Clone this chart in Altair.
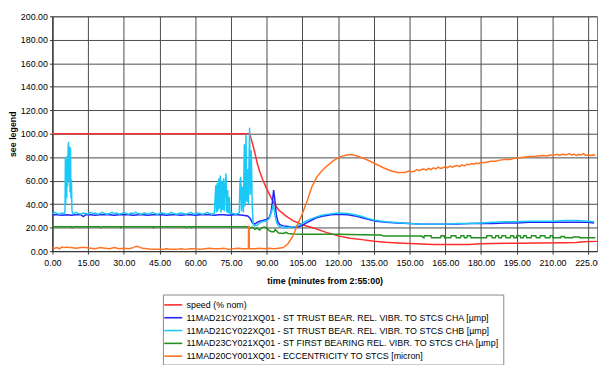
import altair as alt
import pandas as pd

# ---- series names (legend order) ----
names = [
    "speed (% nom)",
    "11MAD21CY021XQ01 - ST TRUST BEAR. REL. VIBR. TO STCS CHA [µmp]",
    "11MAD21CY022XQ01 - ST TRUST BEAR. REL. VIBR. TO STCS CHB [µmp]",
    "11MAD23CY021XQ01 - ST FIRST BEARING REL. VIBR. TO STCS CHA [µmp]",
    "11MAD20CY001XQ01 - ECCENTRICITY TO STCS [micron]",
]
colors = ["#ff2d2d", "#2323ff", "#1cc8f5", "#23901f", "#ff7322"]

# ---- speed ----
speed_t = [0, 82.8, 83.7, 85, 86, 87, 88.5, 90, 92.7, 95, 98, 101, 105, 110, 115, 120, 125, 130,
           135, 140, 145, 150, 155, 160, 170, 175, 180, 185, 195, 205, 215, 220, 223, 228.7]
speed_v = [100, 100, 94, 84, 75, 68, 60, 53, 42, 35, 30, 26, 22.5, 19.5, 16, 13, 11, 9.8,
           8.5, 7.6, 7, 6.5, 6, 5.7, 5.6, 5.7, 6.2, 6.5, 6.8, 7, 7.2, 7.3, 8, 8.3]

# ---- CHA thrust bearing (blue) ----
cha_t = [0, 2, 4, 6, 8, 10, 12, 13, 14, 16, 18, 20, 22, 24, 26, 28, 30, 32, 34, 36, 38, 40, 42, 44,
         46, 48, 50, 52, 54, 56, 58, 60, 62, 64, 66, 68, 70, 72, 74, 76, 78, 80, 82, 83, 84, 85, 86,
         87, 88, 89, 90, 91, 91.8, 92.4, 92.9, 93.4, 94, 94.7, 95.5, 97, 99, 101, 103, 105, 107, 109,
         111, 114, 117, 120, 124, 127, 130, 133, 136, 140, 145, 150, 155, 160, 165, 170, 175, 180,
         185, 190, 195, 200, 205, 210, 215, 220, 225, 227.5]
cha_v = [31, 31, 30.5, 31, 30.5, 31, 31, 29.5, 31, 31, 30.5, 31, 31, 31, 30.5, 31, 31, 31, 30.5, 31,
         31, 30.5, 31, 31, 31, 30.5, 31, 31, 30.5, 31, 31, 30.5, 31, 31, 31, 30.5, 31, 31, 30.5, 31,
         31, 30.5, 30, 28, 24, 23, 24.5, 25.5, 26, 26.5, 27, 28.5, 33, 42, 52, 44, 31, 25, 22.5, 21.5,
         21, 20.5, 20.5, 22, 24.5, 26.5, 28.5, 30, 31, 31.5, 31, 30, 28.5, 27, 25.5, 24.5, 24, 23.5,
         23, 23, 23, 23, 23.5, 23.5, 23.5, 24, 24, 24.5, 24.5, 24.5, 24.5, 24.5, 24.5, 24]

# ---- CHB thrust bearing (cyan) ----
chb_t = [0, 1, 2, 3, 4, 5, 5.3, 5.45, 5.6, 5.8, 6.0, 6.2, 6.4, 6.6, 6.8, 7.0, 7.2, 7.4, 7.6, 7.8,
         8.0, 8.2, 8.5, 9, 10, 11, 12, 13, 14, 15, 16, 17, 18, 19, 20, 21, 22, 23, 24, 25, 26, 27,
         28, 29, 30, 31, 32, 33, 34, 35, 36, 37, 38, 39, 40, 41, 42, 43, 44, 45, 46, 47, 48, 49, 50,
         51, 52, 53, 54, 55, 56, 57, 58, 59, 60, 61, 62, 63, 64, 65, 66, 67, 68,
         68.6, 68.9, 69.2, 69.5, 69.9, 70.2, 70.5, 70.8, 71.2, 71.5, 71.9, 72.2, 72.6, 72.9, 73.2,
         73.6, 73.9, 74.3, 74.6, 75, 76, 77, 78, 78.5, 78.8, 79.1, 79.4, 79.8, 80.2, 80.6, 80.9,
         81.3, 81.6, 82.0, 82.3, 82.8, 83.1, 83.5, 83.9, 84.3, 85, 86, 87, 88, 89, 90, 91, 92, 92.8,
         93.5, 94.2, 95, 96, 98, 100, 102, 104, 106, 108, 110, 113, 116, 120, 124, 127, 130, 133,
         136, 140, 143, 147, 150, 155, 160, 165, 170, 175, 180, 185, 190, 195, 200, 205, 210, 215,
         220, 225, 227.5]
chb_v = [32, 33, 32, 31.5, 32.5, 32, 34, 80, 40, 78, 45, 81, 55, 88, 93, 60, 89, 50, 88, 45,
         61, 35, 32, 32, 33, 32, 31.5, 32.5, 32, 31.5, 33, 32, 32.5, 31.5, 32, 33, 32, 31.5, 32, 33,
         32, 32.5, 31.5, 32, 33, 32, 31.5, 32.5, 32, 33, 32, 31.5, 32, 32.5, 31.5, 32, 33, 32, 31.5,
         32, 32.5, 32, 31.5, 32, 33, 32, 31.5, 32, 32.5, 32, 31.5, 32, 33, 32, 31.5, 32.5, 32, 31.5,
         32, 33, 32, 31.5, 32,
         56, 33, 58, 34, 62, 36, 64.5, 33, 60, 35, 62, 34, 57, 66, 33,
         52, 32, 46, 32, 32.5, 32, 31.5, 32, 33, 60, 63, 34, 55, 33, 91, 38,
         99.5, 42, 70, 40, 105, 48, 86, 40, 23, 21.5, 22, 24, 25, 25.5, 26, 27.5, 33, 40,
         30, 24, 21.5, 20.5, 20, 20.5, 21, 22.5, 25, 27, 28.5, 30.5, 31.5, 32.5, 32, 31, 29.5, 27.5,
         26, 25, 24.5, 24, 23.5, 23, 23, 23, 23.5, 23.5, 24, 24.5, 25, 25, 25.5, 25.5, 25.5, 26,
         26, 25.5, 25]

# ---- first bearing CHA (green) ----
fb_t = [0, 8, 8.3, 8.8, 20, 20.3, 21, 28.5, 28.7, 29.1, 42.2, 42.4, 42.8, 56, 56.2, 56.8, 58, 58.2,
        58.7, 82.5, 83, 84, 85, 86, 87, 88, 89, 90, 91, 92, 93, 93.6, 94.3, 95, 97, 98, 99, 101,
        105, 110, 120, 130, 138, 139, 155, 156, 156.2, 159, 159.2, 163, 163.2, 164.5, 164.7, 167.3,
        167.5, 169.4, 169.6, 171.4, 171.6, 172.8, 173, 174, 174.2, 175.6, 175.8, 182.3, 182.5,
        184.5, 184.7, 186, 186.2, 187.3, 187.5, 188.6, 188.8, 190.3, 190.5, 192.3, 192.5, 193.6,
        193.8, 194.8, 195, 196.5, 196.7, 197.7, 197.9, 199, 199.2, 201, 201.2, 203, 203.2, 204.7,
        204.9, 206.8, 207, 208.9, 209.1, 210, 210.2, 213.4, 213.6, 215, 215.2, 218.4, 218.6, 221.3,
        221.5, 228]
fb_v = [20.8, 20.8, 20, 20.8, 20.8, 20, 20.8, 20.8, 20, 20.8, 20.8, 20, 20.8, 20.8, 20, 20.8, 20.8,
        20, 20.8, 20.8, 19.5, 20.5, 18.5, 19.5, 18, 20, 20.5, 19.5, 17.5, 16.5, 16.5, 18.5, 17, 15.5,
        15, 16, 15, 14.5, 14.3, 14.3, 14.3, 14, 13.8, 12.8, 12.8, 11.3, 13, 13, 11.3, 11.3, 13, 13,
        11.3, 11.3, 13, 13, 11.3, 11.3, 13, 13, 11.3, 11.3, 13, 13, 11.3, 11.3, 13, 13, 11.3, 11.3,
        13, 13, 11.3, 11.3, 13, 13, 11.3, 11.3, 13, 13, 11.3, 11.3, 13, 13, 11.3, 11.3, 13, 13, 11.3,
        11.3, 13, 13, 11.3, 11.3, 13, 13, 11.3, 11.3, 13, 13, 11.3, 11.3, 12.5, 12.5, 11.3, 11.3,
        12, 12, 11.3, 11.3]

# ---- eccentricity (orange) ----
ecc_t = [0, 1, 2, 3, 4, 5, 6, 7, 8, 10, 12, 14, 16, 18, 20, 22, 24, 26, 28, 30, 32, 34, 35, 36, 37,
         38, 40, 42, 44, 46, 48, 50, 52, 54, 56, 58, 60, 62, 64, 66, 68, 70, 72, 74, 76, 78, 80,
         82.3, 82.4, 82.6, 82.7, 85, 87, 89, 91, 93, 95, 97, 99, 101, 103, 105, 107, 109, 111, 113,
         115, 118, 121, 124, 126, 128, 130, 133, 136, 139, 142, 145, 148, 150, 151, 152, 153, 154,
         155, 156, 157, 158, 159, 160, 161, 162, 163, 164, 165, 166, 167, 168, 169, 170, 171, 172,
         173, 174, 175, 176, 177, 178, 179, 180, 182, 184, 186, 188, 190, 192, 194, 196, 198, 200,
         202, 204, 206, 208, 209, 210, 212, 213, 214, 216, 217, 218, 219, 220, 221, 222, 223, 224,
         225, 226, 227, 228]
ecc_v = [3, 2.5, 3, 2, 3.5, 3, 3.5, 3, 3, 2.5, 3, 3, 2.5, 2, 3, 2.5, 2, 3, 2, 2.5, 2, 3, 4, 4, 3,
         2.5, 2, 1.5, 1.5, 1.5, 2, 1.5, 1.5, 2, 1.5, 2, 2, 1.5, 2, 2.5, 2, 2, 2.5, 1.5, 2, 2.5, 2,
         2, 21, 21, 2, 2, 2.5, 2, 2.5, 2, 2.5, 3, 6.5, 13, 23, 32, 43, 55, 63, 68,
         72, 77, 80.5, 82, 82, 81, 79.5, 77, 74, 71, 68.5, 67, 67, 68.5, 67.5, 68, 69.5, 68.5,
         69.5, 70, 69, 70.5, 69.5, 71, 70, 71.5, 70.5, 71, 72, 71, 72.5, 71.5, 72.5, 73, 72, 73.5,
         72.5, 74, 73.5, 74.5, 74, 75, 74.5, 75.5, 75.5, 76.5, 76.5, 77.5, 78, 78, 79, 79.5, 80, 80.5,
         80.5, 81, 81.5, 81, 82, 81.5, 82.5, 81.5, 82.5, 82, 83, 82, 82.5, 81.5, 82.5, 82, 83, 81.5,
         82, 81.5, 82, 81.5]

x_ticks = [0, 15, 30, 45, 60, 75, 90, 105, 120, 135, 150, 165, 180, 195, 210, 225]
y_ticks = [0, 20, 40, 60, 80, 100, 120, 140, 160, 180, 200]

rows = []
for i, (ts, vs) in enumerate([(speed_t, speed_v), (cha_t, cha_v), (chb_t, chb_v),
                               (fb_t, fb_v), (ecc_t, ecc_v)]):
    for t, v in zip(ts, vs):
        rows.append({"t": t, "v": v, "series": names[i], "order": i})
df = pd.DataFrame(rows)

FONT = "Liberation Sans"

chart = alt.Chart(df).mark_line(strokeWidth=1.5, interpolate="linear").encode(
    x=alt.X("t:Q",
            scale=alt.Scale(domain=[0, 228.7], nice=False, zero=False),
            axis=alt.Axis(values=x_ticks, format=".2f", title="time (minutes from 2:55:00)",
                          labelFlush=False, labelOverlap=False, labelPadding=5,
                          titlePadding=9)),
    y=alt.Y("v:Q",
            scale=alt.Scale(domain=[0, 200], nice=False),
            axis=alt.Axis(values=y_ticks, format=".2f", title="see legend",
                          titleAngle=270, titleBaseline="middle", titleX=-40, titleY=119,
                          titleAlign="center")),
    color=alt.Color("series:N",
                    scale=alt.Scale(domain=names, range=colors),
                    sort=names,
                    legend=alt.Legend(title=None, orient="none", legendX=112, legendY=282,
                                      symbolType="M-1.4,0H1.4", symbolSize=169,
                                      symbolStrokeWidth=1.6, symbolFillColor="transparent",
                                      labelFont=FONT, labelFontSize=9, labelColor="#000",
                                      labelOffset=6, rowPadding=0, padding=3,
                                      strokeColor="#888", labelLimit=500)),
    detail="order:O",
    order="order:Q",
).properties(
    width=552, height=238, autosize="none",
    padding={"left": 45, "top": 6, "right": 1, "bottom": 113},
).configure_view(
    stroke="#777", strokeWidth=1
).configure_axis(
    labelFont=FONT, labelFontSize=9, labelColor="#000",
    titleFont=FONT, titleFontSize=9, titleFontWeight="bold", titleColor="#000",
    gridColor="#4a4a4a", gridWidth=1, gridOpacity=1,
    domainColor="#333", tickColor="#333", tickSize=3, labelPadding=2,
)

chart.save("out.html", embed_options={"renderer": "svg", "actions": False})
